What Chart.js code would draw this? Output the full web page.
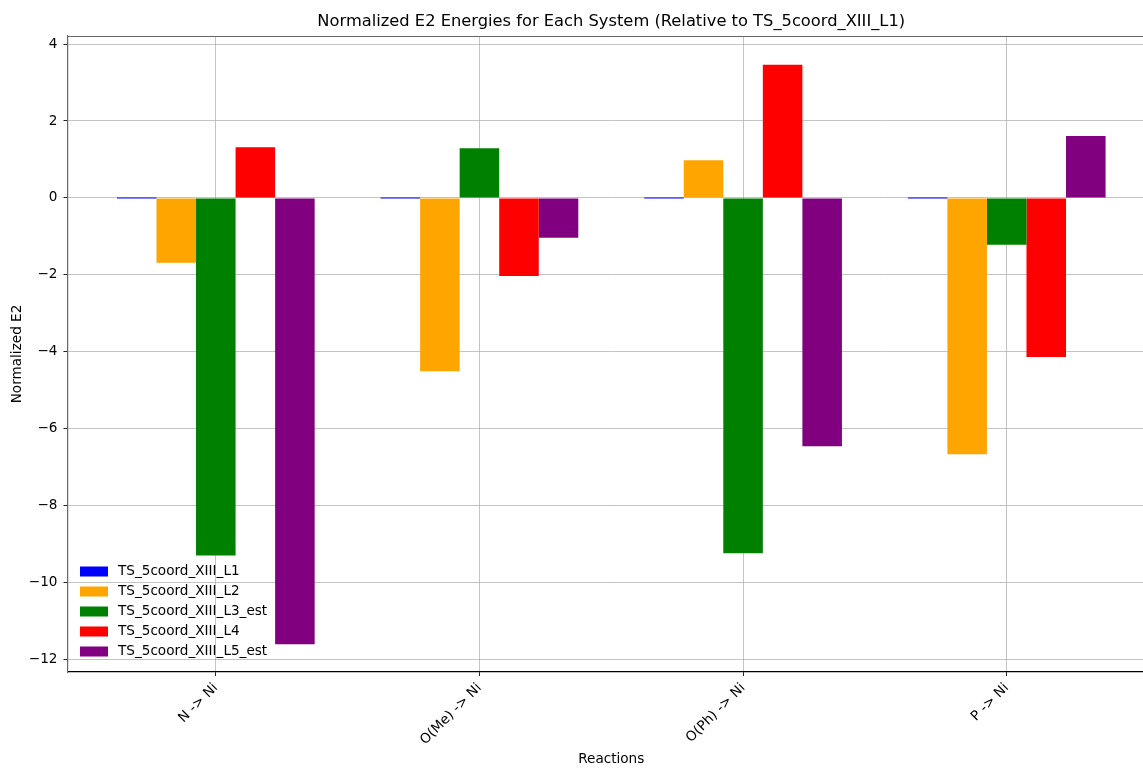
<!DOCTYPE html>
<html><head><meta charset="utf-8">
<script src="https://cdn.jsdelivr.net/npm/chart.js@4/dist/chart.umd.min.js"></script>
<style>html,body{margin:0;padding:0;overflow:hidden;background:#fff}canvas{display:block}</style>
</head><body>
<canvas id="c" width="1155" height="768"></canvas>
<script>
const categories = ['N -> Ni', 'O(Me) -> Ni', 'O(Ph) -> Ni', 'P -> Ni'];
const seriesNames = ['TS_5coord_XIII_L1', 'TS_5coord_XIII_L2', 'TS_5coord_XIII_L3_est', 'TS_5coord_XIII_L4', 'TS_5coord_XIII_L5_est'];
const L1 = [0, 0, 0, 0];
const L2 = [-1.69, -4.51, 0.98, -6.67];
const L3 = [-9.30, 1.29, -9.24, -1.22];
const L4 = [1.32, -2.03, 3.46, -4.14];
const L5 = [-11.61, -1.04, -6.46, 1.61];
const seriesValues = [L1, L2, L3, L4, L5];
const yTicks = [-12, -10, -8, -6, -4, -2, 0, 2, 4];
const colors = ['#0000ff', '#ffa500', '#008000', '#ff0000', '#800080'];
const titleText = 'Normalized E2 Energies for Each System (Relative to TS_5coord_XIII_L1)';
const FS = 13.6;

Chart.defaults.font.family = "'DejaVu Sans', sans-serif";
Chart.defaults.color = '#000';

const datasets = seriesValues.map((vals, k) => ({
  label: seriesNames[k],
  data: vals.map((v, i) => ({x: i, y: v})),
  backgroundColor: colors[k],
  borderWidth: 0,
  minBarLength: k === 0 ? 1 : 0,
  categoryPercentage: 0.75,
  barPercentage: 1.0
}));

const deco = {
  id: 'deco',
  afterDatasetsDraw(chart) {
    const ctx = chart.ctx;
    ctx.save();
    ctx.font = FS + "px 'DejaVu Sans'";
    ctx.textBaseline = 'middle';
    ctx.textAlign = 'left';
    seriesNames.forEach((name, k) => {
      const cy = 571.5 + k * 20;
      ctx.fillStyle = colors[k];
      ctx.fillRect(80, cy - 5, 28, 10);
      ctx.fillStyle = '#000';
      ctx.fillText(name, 118, cy);
    });
    ctx.restore();
  },
  afterDraw(chart) {
    const ctx = chart.ctx;
    const a = chart.chartArea;
    ctx.save();
    ctx.strokeStyle = '#666';
    ctx.lineWidth = 1.2;
    ctx.beginPath();
    ctx.moveTo(a.left, a.top + 0.5);
    ctx.lineTo(a.right, a.top + 0.5);
    ctx.stroke();
    ctx.fillStyle = '#000';
    ctx.font = "16.3px 'DejaVu Sans'";
    ctx.textAlign = 'center';
    ctx.textBaseline = 'middle';
    ctx.fillText(titleText, (a.left + a.right) / 2, 22);
    ctx.restore();
  }
};

new Chart(document.getElementById('c'), {
  type: 'bar',
  data: {datasets},
  plugins: [deco],
  options: {
    responsive: false,
    animation: false,
    layout: {padding: {top: 36, left: 0, right: 0, bottom: 0}},
    plugins: {legend: {display: false}, tooltip: {enabled: false}, title: {display: false}},
    scales: {
      x: {
        type: 'linear',
        min: -0.5625,
        max: 3.5625,
        offset: false,
        z: 1,
        afterBuildTicks: s => { s.ticks = categories.map((c, i) => ({value: i})); },
        afterFit: s => { s.height = 96; },
        ticks: {
          callback: v => categories[v],
          minRotation: 45, maxRotation: 45,
          autoSkip: false,
          padding: 4,
          font: {size: FS}
        },
        grid: {offset: false, color: 'rgba(176,176,176,0.75)', lineWidth: 1, tickLength: 4, tickColor: '#222', drawTicks: true},
        border: {color: '#000', width: 1.2},
        title: {display: true, text: 'Reactions', font: {size: FS}, padding: {top: 1, bottom: 0}}
      },
      y: {
        min: -12.33,
        max: 4.21,
        z: 1,
        afterBuildTicks: s => { s.ticks = yTicks.map(v => ({value: v})); },
        afterFit: s => { s.width = 67.5; },
        ticks: {
          callback: v => (v < 0 ? '\u2212' + Math.abs(v) : String(v)),
          padding: 6,
          font: {size: FS}
        },
        grid: {color: 'rgba(176,176,176,0.75)', lineWidth: 1, tickLength: 4, tickColor: '#222'},
        border: {color: '#666', width: 1.2},
        title: {display: true, text: 'Normalized E2', font: {size: FS}, padding: {top: 9, bottom: 0}}
      }
    }
  }
});
</script>
</body></html>
